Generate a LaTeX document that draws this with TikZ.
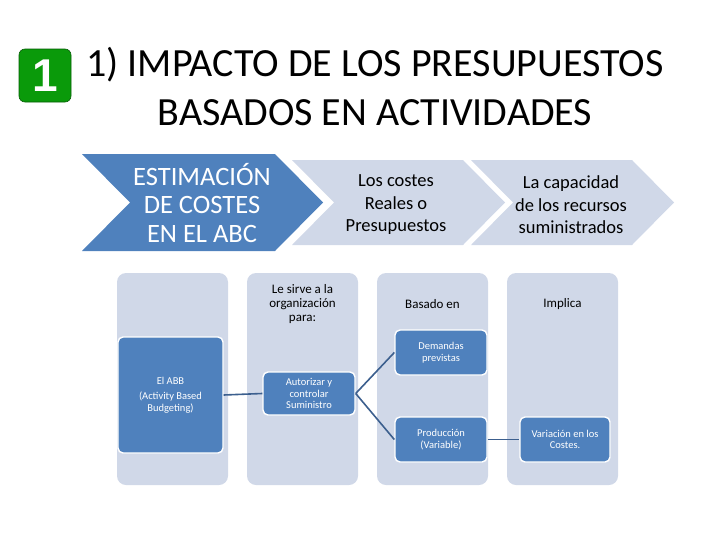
\documentclass[tikz,border=0pt]{standalone}
\usepackage{xcolor}
\usepackage{fontspec}
\setmainfont{Carlito}
\newfontfamily\iconfont{Liberation Sans}
\usepackage{tikz}
\usetikzlibrary{shapes,positioning}

\definecolor{abbblue}{HTML}{4F81BD}
\definecolor{paleblue}{HTML}{D0D8E8}
\definecolor{linkblue}{HTML}{3C5F8E}
\definecolor{icongreen}{HTML}{0A9A0A}

\tikzset{
  column/.style={rectangle, rounded corners=9pt, fill=paleblue, minimum width=111pt, minimum height=212pt},
  item/.style={rectangle, rounded corners=5pt, fill=abbblue, draw=white, line width=1.4pt, text=white, align=center, font=\fontsize{10.5}{11.5}\selectfont, inner sep=1pt},
  head/.style={align=center, font=\fontsize{13}{14}\selectfont},
  link/.style={draw=linkblue, line width=1.6pt}
}

\begin{document}
\begin{tikzpicture}[x=1pt,y=-1pt]
        \useasboundingbox (0,0) rectangle (728,546);

        \node[rectangle, rounded corners=6pt, fill=icongreen, draw=icongreen!60!black, line width=0.6pt, minimum width=52pt, minimum height=53pt, text=white, font=\iconfont\bfseries\fontsize{46}{46}\selectfont] (icon) at (45,75.5) {1};
        \node[align=center, font=\fontsize{40}{49}\selectfont] (title) at (375,87) {1) IMPACTO DE LOS PRESUPUESTOS\\BASADOS EN ACTIVIDADES};

        % chevrons
        \fill[abbblue] (82,154) -- (275,154) -- (323,202.5) -- (275,251) -- (82,251) -- (130,202.5) -- cycle;
        \fill[paleblue] (292,160) -- (463,160) -- (505,202.5) -- (463,245) -- (292,245) -- (334,202.5) -- cycle;
        \fill[paleblue] (471,160) -- (632,160) -- (674,202.5) -- (632,245) -- (471,245) -- (513,202.5) -- cycle;
        \node[align=center, text=white, font=\fontsize{26.5}{28.5}\selectfont] (estim) at (202,203) {ESTIMACIÓN\\DE COSTES\\EN EL ABC};
        \node[align=center, font=\fontsize{18.5}{22.5}\selectfont] (costes) at (396,205) {Los costes\\Reales o\\Presupuestos};
        \node[align=center, font=\fontsize{18.5}{22.5}\selectfont] (capac) at (571,205) {La capacidad\\de los recursos\\suministrados};

        % columns
        \node[column] (colA) at (172.5,379) {};
        \node[column] (colB) at (302.5,379) {};
        \node[column] (colC) at (432.5,379) {};
        \node[column] (colD) at (562.5,379) {};
        \node[head] (hdB) at (302.5,304) {Le sirve a la\\organización\\para:};
        \node[head] (hdC) at (432.5,304) {Basado en};
        \node[head] (hdD) at (562.5,304) {Implica};

        \node[item, minimum width=105pt, minimum height=116pt] (abb) at (170.5,395) {El ABB\\[4pt](Activity Based\\Budgeting)};
        \node[item, minimum width=92pt, minimum height=43pt] (autor) at (309,393.5) {Autorizar y\\controlar\\Suministro};
        \node[item, minimum width=92pt, minimum height=45pt] (dem) at (441,352.5) {Demandas\\previstas};
        \node[item, minimum width=92pt, minimum height=45pt] (prod) at (441,439.5) {Producción\\(Variable)};
        \node[item, minimum width=90pt, minimum height=45pt] (var) at (565,439.5) {Variación en los\\Costes.};

        \draw[link] (abb.east) -- (autor.west);
        \draw[link] (autor.east) -- (dem.west);
        \draw[link] (autor.east) -- (prod.west);
        \draw[link] (prod.east) -- (var.west);
    \end{tikzpicture}
\end{document}
